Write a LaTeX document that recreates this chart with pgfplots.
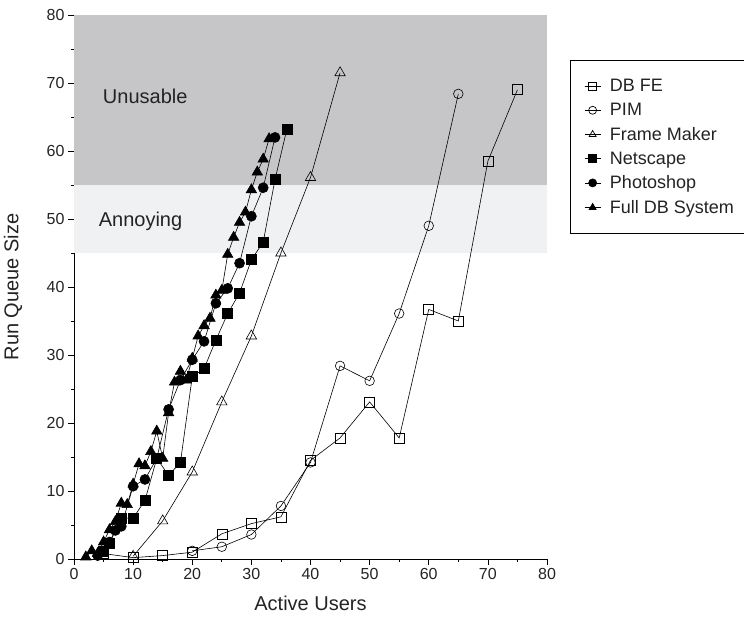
\documentclass[border=0pt]{standalone}
\usepackage{fontspec}
\setmainfont{Liberation Sans}
\usepackage{pgfplots}
\pgfplotsset{compat=1.18}
\definecolor{unusable}{RGB}{198,198,200}
\definecolor{annoying}{RGB}{240,241,243}
\definecolor{txt}{RGB}{35,35,35}
\begin{document}
\begin{tikzpicture}
\begin{axis}[
  width=473pt, height=544pt, scale only axis,
  xmin=0, xmax=80, ymin=0, ymax=80,
  axis x line*=bottom, axis y line*=left,
  axis line style={line width=0.7pt},
  xtick={0,10,...,80}, ytick={0,10,...,80},
  minor x tick num=1, minor y tick num=1,
  tick align=outside,
  major tick length=6pt, minor tick length=3pt,
  tick style={line width=0.7pt, black},
  /pgf/number format/assume math mode=true,
  tick label style={font=\fontsize{16}{18}\selectfont, text=txt},
  xlabel={Active Users}, ylabel={Run Queue Size},
  label style={font=\fontsize{20}{22}\selectfont, text=txt},
  xlabel style={at={(axis description cs:0.5,-0.081)}, anchor=center},
  ylabel style={at={(axis description cs:-0.129,0.5)}, anchor=center},
  clip=false,
  every axis plot/.append style={line width=0.6pt, black},
  legend style={draw=black, line width=0.6pt, fill=white, at={(1.0486,0.917)}, anchor=north west,
    font=\fontsize{18}{20}\selectfont, text=txt, row sep=6pt, inner xsep=14pt, inner ysep=17pt,
    /tikz/every odd column/.append style={column sep=7pt}},
  legend cell align=left,
  legend image code/.code={\draw[mark repeat=2, mark phase=2, mark size=4pt, line width=0.7pt] plot coordinates {(0pt,0pt) (8pt,0pt) (16pt,0pt)};},
]
\addplot[fill=unusable, draw=none, forget plot] coordinates {(0,55) (80,55) (80,80) (0,80)} -- cycle;
\addplot[fill=annoying, draw=none, forget plot] coordinates {(0,45) (80,45) (80,55) (0,55)} -- cycle;
\node[anchor=west, font=\fontsize{20}{22}\selectfont, text=txt] at (axis cs:4.3,68) {Unusable};
\node[anchor=west, font=\fontsize{20}{22}\selectfont, text=txt] at (axis cs:3.6,49.7) {Annoying};

% DB FE
\addplot[mark=square, mark size=5pt, mark options={solid, fill=none}] coordinates {
(5,0.8) (10,0.2) (15,0.5) (20,1.0) (25,3.7) (30,5.2) (35,6.2) (40,14.5) (45,17.8)
(50,23.1) (55,17.8) (60,36.7) (65,35.0) (70,58.5) (75,69.0)};
\addlegendentry{DB FE}
% PIM
\addplot[mark=o, mark size=4.8pt, mark options={solid, fill=none}] coordinates {
(20,1.2) (25,1.8) (30,3.6) (35,7.8) (40,14.2) (45,28.4) (50,26.2) (55,36.1) (60,49.0) (65,68.4)};
\addlegendentry{PIM}
% Frame Maker
\addplot[mark=triangle, mark size=6pt, mark options={solid, fill=none}] coordinates {
(10,0.4) (15,5.6) (20,12.8) (25,23.1) (30,32.8) (35,45.0) (40,56.1) (45,71.5)};
\addlegendentry{Frame Maker}
% Netscape
\addplot[mark=square*, mark size=5pt, mark options={solid}] coordinates {
(5,1.2) (6,2.3) (8,6.0) (10,6.0) (12,8.6) (14,14.8) (16,12.3) (18,14.2) (20,26.8)
(22,28.0) (24,32.2) (26,36.1) (28,39.1) (30,44.0) (32,46.6) (34,55.8) (36,63.2)};
\addlegendentry{Netscape}
% Photoshop
\addplot[mark=*, mark size=5pt, mark options={solid}] coordinates {
(4,0.5) (6,2.5) (7,4.2) (8,4.8) (10,10.7) (12,11.7) (14,14.8) (16,22.0) (18,26.3)
(20,29.3) (22,32.0) (24,37.6) (26,39.8) (28,43.5) (30,50.4) (32,54.6) (34,62.0)};
\addlegendentry{Photoshop}
% Full DB System
\addplot[mark=triangle*, mark size=6pt, mark options={solid}] coordinates {
(2,0.3) (3,1.2) (4,0.8) (5,2.5) (6,4.3) (7,5.5) (8,8.2) (9,8.0) (10,11.0) (11,14.0)
(12,13.7) (13,15.8) (14,18.8) (15,14.8) (16,21.5) (17,26.0) (18,27.6) (19,26.3)
(20,29.5) (21,32.8) (22,34.3) (23,35.4) (24,38.8) (25,39.5) (26,44.8) (27,47.3)
(28,49.5) (29,51.0) (30,54.3) (31,56.9) (32,58.8) (33,61.8)};
\addlegendentry{Full DB System}
\end{axis}
\pgfresetboundingbox
\path ([shift={(-74pt,-68pt)}]current axis.south west) rectangle ([shift={(197pt,15pt)}]current axis.north east);
\end{tikzpicture}
\end{document}
